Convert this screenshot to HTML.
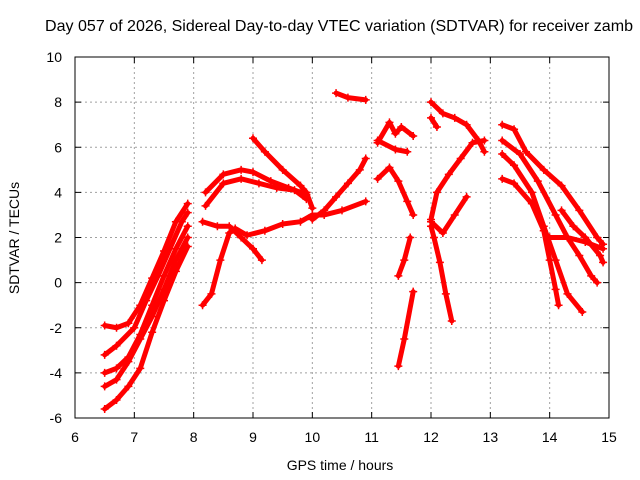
<!DOCTYPE html>
<html><head><meta charset="utf-8"><style>
body{margin:0;background:#fff}
svg{display:block;font-family:"Liberation Sans",sans-serif}
</style></head><body>
<svg id="chart" width="640" height="480">
<text x="339" y="31" text-anchor="middle" font-size="16" textLength="588" lengthAdjust="spacingAndGlyphs">Day 057 of 2026, Sidereal Day-to-day VTEC variation (SDTVAR) for receiver zamb</text>
<text x="340" y="470" text-anchor="middle" font-size="14">GPS time / hours</text>
<text transform="translate(19,238) rotate(-90)" text-anchor="middle" font-size="14">SDTVAR / TECUs</text>
<g id="grid"></g><g id="ticks"></g><g id="marks"></g>
<rect x="75" y="57" width="534" height="361" fill="none" stroke="#000"/>
</svg>
<script>
const xTicks=[6,7,8,9,10,11,12,13,14,15];
const yTicks=[-6,-4,-2,0,2,4,6,8,10];
const t1=[[6.5,-1.9],[6.7,-2.0],[6.9,-1.8],[7.1,-1.0],[7.3,0.2],[7.5,1.4],[7.7,2.7],[7.9,3.5]];
const t2=[[6.5,-3.2],[6.7,-2.8],[7.0,-2.0],[7.2,-0.8],[7.4,0.3],[7.6,1.5],[7.8,2.7],[7.9,3.1]];
const t3=[[6.5,-4.0],[6.7,-3.8],[6.9,-3.3],[7.1,-2.3],[7.3,-1.0],[7.5,0.3],[7.7,1.5],[7.9,2.5]];
const t4=[[6.5,-4.6],[6.7,-4.3],[6.9,-3.5],[7.1,-2.5],[7.3,-1.5],[7.5,-0.3],[7.7,1.0],[7.9,2.0]];
const t5=[[6.5,-5.6],[6.7,-5.2],[6.9,-4.6],[7.1,-3.8],[7.3,-2.2],[7.5,-0.8],[7.7,0.5],[7.9,1.6]];
const t6=[[8.2,4.0],[8.5,4.8],[8.8,5.0],[9.0,4.9],[9.3,4.5],[9.6,4.2],[9.9,3.9]];
const t6b=[[8.2,3.4],[8.5,4.4],[8.8,4.6],[9.1,4.4],[9.4,4.2],[9.7,4.1],[9.9,3.7]];
const t6c=[[9.0,6.4],[9.2,5.8],[9.5,5.0],[9.8,4.3],[9.9,4.0],[10.0,3.3]];
const t7=[[8.15,2.7],[8.4,2.5],[8.6,2.5],[8.8,2.0],[9.0,1.5],[9.15,1.0]];
const t8=[[8.15,-1.0],[8.3,-0.5],[8.45,1.0],[8.6,2.2],[8.7,2.4],[8.9,2.1],[9.2,2.3],[9.5,2.6],[9.8,2.7],[10.0,3.0],[10.2,3.0],[10.5,3.2],[10.9,3.6]];
const t9=[[10.0,2.8],[10.2,3.2],[10.4,3.8],[10.6,4.4],[10.8,5.0],[10.9,5.5]];
const t10=[[10.4,8.4],[10.6,8.2],[10.9,8.1]];
const t11=[[11.1,6.2],[11.3,7.1],[11.4,6.6],[11.5,6.9],[11.7,6.5]];
const t11b=[[11.1,6.3],[11.4,5.9],[11.6,5.8]];
const t12=[[11.1,4.6],[11.3,5.1],[11.45,4.5],[11.6,3.6],[11.7,3.0]];
const t13=[[11.45,0.3],[11.55,1.0],[11.65,2.0]];
const t14=[[11.45,-3.7],[11.55,-2.5],[11.7,-0.4]];
const t15=[[12.0,8.0],[12.2,7.5],[12.4,7.3],[12.6,7.0],[12.8,6.3],[12.9,5.8]];
const t15b=[[12.0,7.3],[12.1,6.9]];
const t16=[[12.0,2.8],[12.1,4.0],[12.3,4.8],[12.5,5.5],[12.7,6.2],[12.9,6.3]];
const t17=[[12.0,2.5],[12.05,2.0],[12.15,0.9],[12.25,-0.5],[12.35,-1.7]];
const t17b=[[12.0,2.7],[12.2,2.2],[12.4,3.0],[12.6,3.8]];
const r1=[[13.2,7.0],[13.4,6.8],[13.6,5.8],[13.9,5.0],[14.2,4.3],[14.5,3.2],[14.8,2.0],[14.9,1.7]];
const r2=[[13.2,6.3],[13.5,5.7],[13.8,4.5],[14.1,3.0],[14.3,2.0],[14.6,1.8],[14.9,1.5]];
const r3=[[13.2,5.7],[13.4,5.2],[13.7,4.0],[13.9,2.5],[14.1,1.0],[14.3,-0.5],[14.55,-1.3]];
const r4=[[13.2,4.6],[13.4,4.4],[13.7,3.5],[13.9,2.3],[14.0,1.0],[14.1,-0.3],[14.15,-1.0]];
const r5=[[14.0,2.0],[14.3,2.0],[14.5,1.2],[14.7,0.3],[14.8,0.0]];
const r6=[[14.2,3.2],[14.4,2.5],[14.6,2.0],[14.85,1.2],[14.9,0.9]];
const series=[t1,t2,t3,t4,t5,t6,t6b,t6c,t7,t8,t9,t10,t11,t11b,t12,t13,t14,t15,t15b,t16,t17,t17b,r1,r2,r3,r4,r5,r6];

const NS="http://www.w3.org/2000/svg";
const X0=75,X1=609,Y0=418,Y1=57;
function xs(h){return X0+(h-6)/9*(X1-X0);}
function ys(v){return Y0-(v+6)/16*(Y0-Y1);}
function mk(t,a,parent){const e=document.createElementNS(NS,t);for(const k in a)e.setAttribute(k,a[k]);parent.appendChild(e);return e;}
const grid=document.getElementById('grid'),ticks=document.getElementById('ticks'),marks=document.getElementById('marks');
xTicks.forEach(v=>{const x=xs(v);
  if(v>6&&v<15){const g=mk('line',{x1:x,x2:x,y1:Y1,y2:Y0,stroke:'#a0a0a0','stroke-dasharray':'2,3'},grid);
  
  }
  mk('line',{x1:x,x2:x,y1:Y0,y2:Y0-6,stroke:'#000'},ticks);
  mk('line',{x1:x,x2:x,y1:Y1,y2:Y1+6,stroke:'#000'},ticks);
  const t=mk('text',{x:x,y:442,'text-anchor':'middle','font-size':14},ticks);t.textContent=v;
  
  
});
yTicks.forEach(v=>{const y=ys(v);
  if(v>-6&&v<10){const g=mk('line',{x1:X0,x2:X1,y1:y,y2:y,stroke:'#a0a0a0','stroke-dasharray':'2,3'},grid);
  
  }
  mk('line',{x1:X0,x2:X0+6,y1:y,y2:y,stroke:'#000'},ticks);
  mk('line',{x1:X1,x2:X1-6,y1:y,y2:y,stroke:'#000'},ticks);
  const t=mk('text',{x:62,y:y+5,'text-anchor':'end','font-size':14},ticks);t.textContent=v;
  
  
});
series.forEach((s,i)=>{
  const pl=mk('polyline',{points:s.map(p=>xs(p[0])+','+ys(p[1])).join(' '),fill:'none',stroke:'#ff0000','stroke-width':5,'stroke-linejoin':'round','stroke-linecap':'round'},marks);
  
  
  s.forEach(p=>{const x=xs(p[0]),y=ys(p[1]);
    const m=mk('path',{d:`M${x-4},${y}H${x+4}M${x},${y-4}V${y+4}`,stroke:'#ff0000','stroke-width':1.5},marks);
    
    
  });
});
</script>
</body></html>
